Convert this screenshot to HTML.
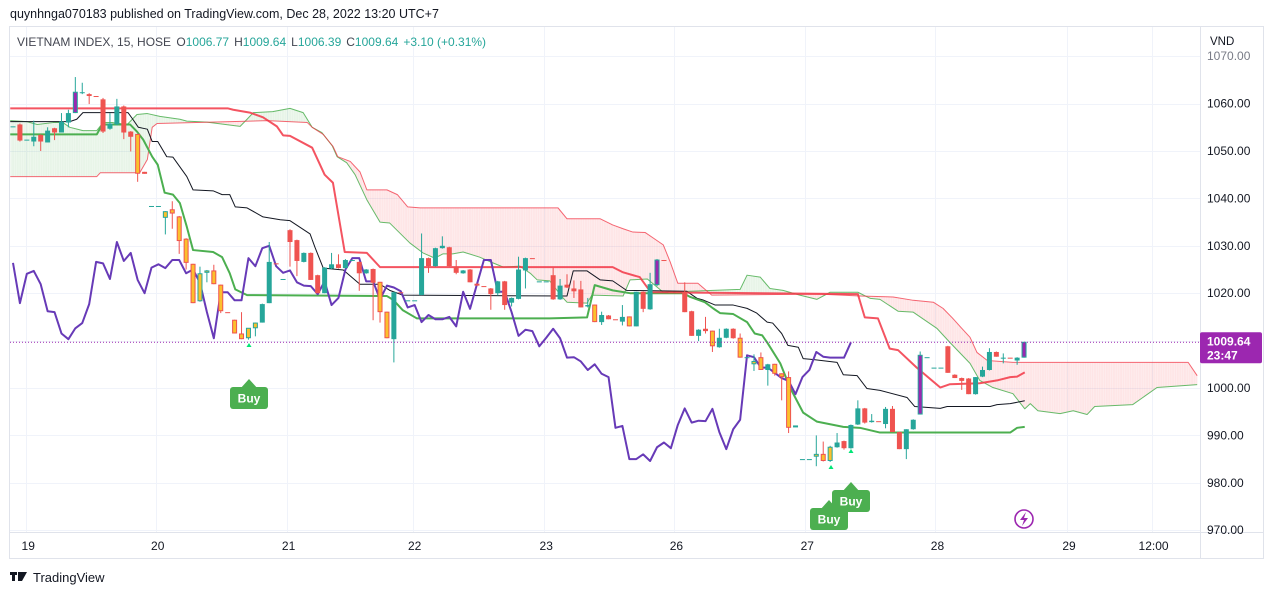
<!DOCTYPE html>
<html><head><meta charset="utf-8"><style>
html,body{margin:0;padding:0;background:#fff;}
svg{display:block;font-family:"Liberation Sans",sans-serif;}
</style></head><body>
<svg id="chart" width="1274" height="595" viewBox="0 0 1274 595" xmlns="http://www.w3.org/2000/svg">
<text x="10" y="18" font-size="12.5" fill="#131722">quynhnga070183 published on TradingView.com, Dec 28, 2022 13:20 UTC+7</text>
<rect x="9.5" y="26.5" width="1254" height="532" fill="none" stroke="#e0e3eb"/>
<g id="grid"></g>
<g id="plot" clip-path="url(#clipP)"></g>
<defs><clipPath id="clipP"><rect x="10" y="27" width="1190" height="505"/></clipPath></defs>
<line x1="1200.5" y1="27" x2="1200.5" y2="558" stroke="#e0e3eb"/>
<line x1="10" y1="532.5" x2="1263" y2="532.5" stroke="#e0e3eb"/>
<g id="axes"></g>
<text x="17" y="46" font-size="12" fill="#434651">VIETNAM INDEX, 15, HOSE <tspan fill="#434651" dx="2">O</tspan><tspan fill="#26a69a">1006.77</tspan><tspan fill="#434651" dx="5">H</tspan><tspan fill="#26a69a">1009.64</tspan><tspan fill="#434651" dx="5">L</tspan><tspan fill="#26a69a">1006.39</tspan><tspan fill="#434651" dx="5">C</tspan><tspan fill="#26a69a">1009.64</tspan><tspan fill="#26a69a" dx="5">+3.10 (+0.31%)</tspan></text>
<text x="1210" y="45" font-size="11.5" fill="#131722">VND</text>
<g>
<rect x="10" y="572" width="7" height="3" fill="#131722"/><rect x="12" y="572" width="3" height="9" fill="#131722"/>
<polygon points="18,572 27,572 22,581 18,581" fill="#131722"/>
<text x="33" y="582" font-size="13" fill="#131722">TradingView</text>
</g>
<g>
<circle cx="1024" cy="519" r="9" fill="#fff" stroke="#9c27b0" stroke-width="1.6"/>
<polygon points="1026,512 1020,520 1024,520 1022,526 1028,518 1024,518" fill="#9c27b0"/>
</g>
</svg>
<script>
const candles=[
[1055.2,1055.2,1055.2,1055.2],[1055.6,1055.8,1052,1052.2],[1052.4,1052.4,1052.4,1052.4],[1052,1056.4,1051,1053],[1053.4,1053.5,1050,1052],
[1051.8,1055,1051.8,1054.3],[1054.8,1054.9,1052.3,1053.9],[1053.9,1058,1053.9,1056.2],[1056,1058.7,1055,1058],[1058,1065.6,1058,1062.4],
[1062.4,1064.4,1062,1062.4],[1062,1062.2,1059.9,1061.6],[1061.6,1061.6,1061.6,1061.6],[1060.9,1061.2,1053.8,1054.1],[1054.7,1058,1054.5,1055.8],
[1055.6,1061,1055.4,1059.4],[1059.4,1059.6,1052.5,1053.9],[1054.1,1054.2,1049.9,1053],[1053.5,1053.6,1043.5,1045.2],[1045.5,1045.6,1045.2,1045.3],
[1038.4,1038.4,1038.4,1038.4],[1038.4,1038.4,1038.4,1038.4],[1035.9,1037.3,1032.4,1037.2],[1037.6,1039.4,1033.6,1036.8],[1036.1,1036.3,1028.3,1031],
[1031.4,1031.6,1025,1026.4],[1026.1,1026.2,1017.9,1017.9],[1018.3,1025.6,1018.2,1024.1],[1024.3,1024.9,1022.3,1024.7],[1024.7,1026,1021.9,1021.9],
[1021.7,1021.8,1015.8,1016.2],[1016,1016,1016,1016],[1014.3,1014.4,1011.5,1011.5],[1011.4,1016,1010.3,1010.3],[1010.5,1012.6,1010.2,1012.6],
[1012.6,1013.8,1010.9,1013.7],[1013.8,1017.8,1013.8,1017.7],[1017.9,1030.8,1017.9,1026.6],[1026.3,1026.3,1026.3,1026.3],[1023,1023,1023,1023],
[1033.3,1033.5,1025.6,1030.8],[1031.2,1031.3,1023.6,1026.8],[1026.6,1028.6,1026.5,1028.5],[1028.5,1028.6,1022.8,1022.8],[1023.8,1023.9,1020,1020],
[1020,1025.5,1020,1025.4],[1025.2,1028.5,1025.1,1026.1],[1026.1,1028.2,1025.2,1025.3],[1025.3,1027.2,1025.2,1027],[1027,1027,1027,1027],
[1026.6,1026.7,1020.5,1024.2],[1024.2,1025.1,1024.1,1025],[1025.1,1025.2,1014.3,1022.2],[1022.3,1022.4,1013.8,1016],[1016,1016.1,1010.5,1010.5],
[1010.3,1020.3,1005.4,1020.2],[1020.2,1020.2,1020.2,1020.2],[1018.5,1018.5,1018.5,1018.5],[1018.5,1018.5,1018.5,1018.5],[1019.6,1032.6,1019.6,1027.4],
[1027.4,1027.5,1024.3,1025.7],[1025.7,1029.6,1025.6,1029.5],[1029.5,1032,1029.4,1030],[1029.7,1029.8,1025.6,1025.7],[1025.6,1027,1024,1024.3],
[1024.2,1024.9,1024.1,1024.8],[1025,1025.1,1022.3,1022.3],[1022,1022.1,1021.6,1021.6],[1021.5,1021.5,1021.5,1021.5],[1021,1021.1,1016.5,1019.8],
[1020,1022.6,1019.5,1022.5],[1022.5,1022.6,1016.5,1017.5],[1018,1019.1,1017.2,1019],[1018.8,1027.7,1018.7,1025],[1024.8,1027.5,1021,1027.4],
[1027.4,1027.4,1027.4,1027.4],[1022.5,1022.5,1022.5,1022.5],[1022.5,1022.5,1022.5,1022.5],[1023.8,1025.5,1018.6,1018.7],[1018.7,1023,1018.6,1021.6],
[1021.8,1024,1021.1,1021.2],[1021,1022.7,1019,1020.4],[1020.8,1022.6,1017,1017],[1017.2,1019,1017,1017.5],[1017.5,1017.6,1013.9,1013.9],
[1013.9,1016.1,1013.3,1015.4],[1015.3,1015.4,1014.5,1014.5],[1014.5,1014.5,1014.5,1014.5],[1014,1017.5,1013.2,1015],[1015,1015.1,1013,1013],
[1013,1020.3,1013,1020.3],[1020.3,1020.4,1016,1016.7],[1016.6,1024.3,1016.5,1021.9],[1021.7,1027.2,1021.5,1027],[1027,1027,1027,1027],
[1020.3,1020.3,1020.3,1020.3],[1020.3,1020.3,1020.3,1020.3],[1020.3,1022.3,1016,1016],[1016.2,1016.3,1011,1011],[1011,1012.4,1009.9,1012.3],
[1012.5,1015,1011.5,1012],[1012,1012.1,1007.6,1008.8],[1008.6,1012.5,1008.5,1010.6],[1010.6,1012.6,1010.5,1012.5],[1012.5,1012.6,1010.4,1010.5],
[1010.5,1011.5,1006.4,1006.4],[1006.5,1006.5,1006.5,1006.5],[1005,1007.1,1003.6,1005.6],[1006.4,1007.5,1003.8,1003.8],[1003.8,1005.1,1000.5,1005],
[1005,1005.1,1002.6,1003],[1003,1003.1,997.4,1002.3],[1002.2,1003.5,990.5,991.6],[992,992,992,992],[985,985,985,985],
[985,985,985,985],[985.5,990,983.5,986],[986,988.7,984.5,984.6],[984.6,987.8,984.4,987.5],[987.5,990.5,987.4,988.5],
[988.8,988.9,987,987.3],[987.3,992.3,987.2,992.2],[992.3,997.4,992.2,995.7],[995.7,995.8,992.5,992.7],[992.8,994.5,992.7,993.1],
[993,993,993,993],[992.4,996,991.5,995.6],[995.6,996.2,990.7,990.7],[990.7,990.8,987.1,987.1],[987.1,991.3,985,991.3],
[991.3,993.4,991.2,993.3],[994.4,1007.7,994.4,1006.9],[1006.5,1006.5,1006.5,1006.5],[1004.3,1004.3,1004.3,1004.3],[1004.3,1004.3,1004.3,1004.3],
[1008.8,1008.9,1003.2,1003.2],[1002.8,1002.9,1002.1,1002.1],[1002.1,1002.2,999.6,1001.5],[1002,1002.1,998.7,998.7],[998.7,1002.3,998.6,1002.3],
[1002.4,1004.5,1002.3,1003.8],[1003.8,1008.4,1003.7,1007.6],[1007.6,1007.7,1006.6,1006.6],[1006.4,1007.3,1005.2,1006.4],[1006.4,1006.4,1006.4,1006.4],
[1005.8,1006.5,1004.9,1006.4],[1006.4,1009.64,1006.39,1009.64]];
const candleStyles="uduududuuP"+"uddduuddYY"+"uuUYYYYUUY"+"YdYYUUuudu"+"ddudduuduu"+"dudYYuduuu"+"duuddudddd"+"uduuuduudu"+"ddduYudduY"+"uduPdddddu"+"dYuudYuUYu"+"YYYUuuUYUu"+"duudududdu"+"uPuuuddddu"+"uududuP";
const tickPrices=[970,980,990,1000,1010,1020,1030,1040,1050,1060,1070];
const timeLabels=["19","20","21","22","23","26","27","28","29","12:00"];
const timeLabelBars=[2.2,20.9,39.8,58,77,95.8,114.7,133.5,152.5,164.7];
const chikouShift=25;
const lineRed=[[-0.4,1059],[31,1059],[31.8,1058.7],[34.2,1058.1],[36.1,1057.1],[38.1,1055.2],[39,1053.3],[40,1053.2],[43.2,1050.7],[45,1045],[46.2,1043.3],[47.9,1028.7],[51.1,1028.5],[53,1025.5],[86.6,1025.5],[88.1,1024.4],[90.5,1023.4],[91.7,1021],[92.4,1020.2],[122,1019.8],[123,1014.9],[124.9,1014.7],[126.6,1008.3],[127.8,1008],[130.5,1004.3],[133.9,1000.1],[135.3,1000.8],[139.6,1001],[142.1,1001.6],[144,1002.3],[145,1002.4],[146.1,1003.3]];
const lineGreen=[[-0.4,1053.5],[12.1,1053.5],[12.9,1055.6],[16.9,1055.6],[17.9,1054.1],[18.8,1052.4],[20.1,1048.8],[20.9,1047.1],[21.9,1041.2],[23.1,1040.8],[24.1,1039],[25.1,1034],[26,1029.1],[28.9,1028.7],[30.2,1027.6],[31.3,1024.2],[32.1,1020.8],[33.8,1019.6],[54,1019.4],[54.9,1018.6],[56.3,1016.4],[58.3,1014.7],[77.5,1014.7],[82.9,1014.9],[84,1021.7],[86.6,1020.6],[89.1,1020],[96.8,1020],[97.8,1019.2],[99.9,1018.1],[101.1,1016.8],[102.1,1015.8],[104,1015.6],[106,1013.9],[107.1,1011.5],[108.2,1011.1],[109,1009.4],[110.8,1005.2],[112.2,1000.1],[114.1,994.8],[116.1,992.9],[119.9,991.8],[122.3,991.6],[125.2,990.6],[144,990.6],[145,991.6],[146.1,991.8]];
const lineBlack=[[-0.4,1056.2],[8.2,1056.2],[9.2,1056.7],[10.1,1058.1],[16.6,1058.1],[17.3,1056.7],[18.1,1055],[19.4,1054.6],[20.1,1052],[20.9,1052],[22.2,1048.8],[23.1,1048.7],[25.1,1044.6],[26,1041.8],[28.9,1041.6],[30.2,1040.8],[31.3,1040.8],[32.1,1038.2],[33.8,1038],[36.1,1036.1],[38.6,1035.5],[40,1035.3],[42.9,1032.5],[43.6,1029.7],[44.8,1025.3],[47.7,1024.9],[50.1,1021.9],[53,1021.9],[54.4,1020.6],[56.3,1019.6],[80,1019.4],[80.9,1024.7],[82.9,1024.7],[84.8,1022.8],[86.6,1022.6],[88.6,1020.6],[97.3,1020.4],[98.8,1018.9],[99.6,1018.6],[101.4,1017.5],[104,1017.5],[106,1016.8],[107.4,1015.8],[108.9,1013.9],[109.7,1013.7],[111,1011.5],[111.9,1009],[113.4,1008.6],[114.1,1006.2],[115.5,1006],[119,1005.4],[119.9,1002.8],[121.9,1002.6],[123.3,999.9],[125.2,999.5],[129.1,998],[130.2,996.1],[133.9,995.7],[134.9,996.1],[141.1,996.1],[142.1,996.5],[144,996.7],[146.1,997.3]];
const leadA=[[-0.4,1056.4],[2,1056.2],[3.5,1055.6],[5.8,1056],[7.2,1056],[8.2,1055],[10.1,1054.3],[12.1,1054.3],[13,1056],[14.4,1056],[16.5,1055.6],[17.9,1057.7],[19.4,1057.9],[21.2,1057.3],[24.1,1056.7],[25.1,1056.3],[28,1056.1],[32.8,1055.2],[33.8,1056.7],[34.7,1058.1],[37.5,1058.3],[40,1059],[41.9,1058.1],[43.2,1055],[44.6,1053.9],[46.1,1051.1],[46.8,1048.8],[48.2,1047.5],[49.4,1045],[51.1,1039.7],[53,1035],[54.4,1034.8],[57.3,1030.6],[59.2,1028.5],[60.9,1027.4],[62.1,1028.3],[63.5,1028.3],[65,1028.7],[67.4,1027.6],[69.3,1026.4],[70.8,1025.5],[73.2,1025.7],[74.7,1024.2],[75.7,1022.8],[77.5,1022.6],[79.3,1019.2],[80,1018.1],[82.9,1017.9],[83.6,1019.6],[88.1,1019.4],[89.1,1022.8],[91.6,1023],[93.9,1020.2],[105,1020.8],[106,1023.8],[107.9,1023.4],[109.3,1021],[111.2,1020.6],[113.6,1019.6],[116.1,1018.7],[118,1020.2],[122,1020.2],[123.8,1018.9],[125.2,1018.7],[127.8,1016.2],[130,1016],[133.4,1012.6],[135.3,1009.6],[138.2,1005.2],[139.6,1001.6],[141.5,1000.1],[144.4,998.8],[146.1,995.6],[146.9,996.7],[148,995.2],[151.2,994.6],[153.1,995.2],[155.1,994.4],[156.2,996.1],[161.7,996.5],[165.2,1000.1],[171,1000.7]];
const leadB=[[-0.4,1044.6],[12.1,1044.6],[12.6,1045.4],[18.3,1045.4],[19.4,1048.2],[20.1,1055],[20.8,1055.8],[36.7,1056.4],[42.5,1056],[43.2,1055],[44.8,1053.5],[46.2,1051],[46.9,1048.8],[48.7,1047.8],[50.1,1045.6],[51.1,1041.8],[54,1041.8],[55.5,1040.8],[57,1038.2],[58.8,1038],[78.7,1038],[80,1035.7],[84.8,1035.7],[86.6,1034.4],[88.1,1033.6],[89.5,1032.9],[91.3,1032.8],[92.4,1031.7],[93.9,1030.2],[94.9,1026.6],[96,1022.1],[98.9,1022.1],[100.9,1019.6],[116.5,1019.8],[122.3,1019.4],[127.1,1019.2],[130,1018.5],[132.9,1018.1],[134.3,1016.8],[135.7,1014.7],[137,1012.6],[138.2,1010.7],[139.2,1007.5],[140.7,1005.8],[144.4,1005.4],[169.7,1005.4],[171,1002.6]];

const NS="http://www.w3.org/2000/svg";
function xs(i){return 13+i*6.925;}
function ys(p){return 388-(p-1000)*4.74;}
function mk(tag,attrs,parent){const e=document.createElementNS(NS,tag);for(const k in attrs)e.setAttribute(k,attrs[k]);parent.appendChild(e);return e;}
const grid=document.getElementById('grid'),plot=document.getElementById('plot'),axes=document.getElementById('axes');

tickPrices.forEach(p=>{
 const gl=mk('line',{x1:10,x2:1200,y1:Math.round(ys(p))+0.5,y2:Math.round(ys(p))+0.5,stroke:'#f0f3fa'},grid);
 
 
 const t=mk('text',{x:1207,y:ys(p)+4,'font-size':12,fill:p===1070?'#787b86':'#131722'},axes);
 t.textContent=p.toFixed(2);
 
 
});
timeLabels.forEach((s,k)=>{
 const gx=Math.round(xs(timeLabelBars[k]))-1.5;
 const gl=mk('line',{x1:gx,x2:gx,y1:27,y2:532,stroke:'#f0f3fa'},grid);
 
 
 const t=mk('text',{x:xs(timeLabelBars[k]),y:550,'font-size':12,fill:'#131722','text-anchor':'middle'},axes);
 t.textContent=s;
 
 
});

function interp(arr,i){
 if(i<=arr[0][0])return arr[0][1];
 for(let k=1;k<arr.length;k++){if(i<=arr[k][0]){const a=arr[k-1],b=arr[k];return a[1]+(b[1]-a[1])*(i-a[0])/(b[0]-a[0]);}}
 return arr[arr.length-1][1];
}
const cloud=mk('g',{},plot);


const i0=leadA[0][0],i1=leadA[leadA.length-1][0];
for(let i=i0;i<i1;i+=0.25){
 const j=Math.min(i+0.25,i1);
 const a0=interp(leadA,i),b0=interp(leadB,i),a1=interp(leadA,j),b1=interp(leadB,j);
 const up=(a0+a1)>(b0+b1);
 const q=mk('polygon',{points:`${xs(i)},${ys(a0)} ${xs(j)+0.3},${ys(a1)} ${xs(j)+0.3},${ys(b1)} ${xs(i)},${ys(b0)}`,fill:up?'rgba(76,175,80,0.1)':'rgba(242,54,69,0.1)'},cloud);
 
 
}
function poly(arr,color,w,name,op){
 const p=mk('polyline',{points:arr.map(d=>xs(d[0])+','+ys(d[1])).join(' '),fill:'none',stroke:color,'stroke-width':w,'stroke-opacity':op||1,'stroke-linejoin':'round'},plot);
 
 
}
poly(leadA,'#4caf50',1,'leading-span-a',0.85);
poly(leadB,'#f23645',1,'leading-span-b',0.75);
poly(lineBlack,'#131722',1,'black-line');
poly(lineGreen,'#4caf50',2,'green-line');
poly(lineRed,'#f23645',2,'red-line',0.85);
const lag=[];
for(let i=0;i+chikouShift<candles.length;i++)lag.push([i,candles[i+chikouShift][3]]);
poly(lag,'#673ab7',2,'lagging-span');

const cg=mk('g',{},plot);


candles.forEach((c,i)=>{
 const s=candleStyles[i]||'u';
 const up=(s==='u'||s==='U'||s==='P');
 const edge=up?'#26a69a':'#ef5350';
 let fill=edge;
 if(s==='Y'||s==='U')fill='#fbc02d';
 if(s==='P')fill='#9c27b0';
 const x=xs(i);
 const g=mk('g',{},cg);
 
 
 mk('line',{x1:x,x2:x,y1:ys(c[1]),y2:ys(c[2]),stroke:edge,'stroke-width':1},g);
 const top=ys(Math.max(c[0],c[3])),bot=ys(Math.min(c[0],c[3]));
 const h=Math.max(bot-top,1);
 if(fill===edge) mk('rect',{x:x-2.5,y:top,width:5,height:h,fill:fill},g);
 else mk('rect',{x:x-2,y:top,width:4,height:Math.max(h-0.5,1),fill:fill,stroke:edge,'stroke-width':1},g);
});

function tri(x,y){const t=mk('polygon',{points:`${x-2.5},${y+3} ${x+2.5},${y+3} ${x},${y-1}`,fill:'#00e676'},plot);
 
 }
tri(249,344);tri(831,466);tri(851,450);
function buy(cx,top){
 const g=mk('g',{},axes);
 
 
 mk('polygon',{points:`${cx-9},${top+10} ${cx},${top} ${cx+9},${top+10}`,fill:'#4caf50'},g);
 mk('rect',{x:cx-19,y:top+8,width:38,height:22,rx:3,fill:'#4caf50'},g);
 const t=mk('text',{x:cx,y:top+23.5,'font-size':12,'font-weight':'bold',fill:'#fff','text-anchor':'middle'},g);
 t.textContent='Buy';
}
buy(249,379);buy(829,500);buy(851,482);

const lp=candles[candles.length-1][3];
const dl=mk('line',{x1:10,x2:1200,y1:ys(lp),y2:ys(lp),stroke:'#9c27b0','stroke-width':1,'stroke-dasharray':'1 2'},plot);


const lg=mk('g',{},axes);


mk('rect',{x:1200,y:ys(lp)-10,width:62,height:31,rx:2,fill:'#9c27b0'},lg);
const t1=mk('text',{x:1207,y:ys(lp)+3,'font-size':12,'font-weight':'bold',fill:'#fff'},lg);t1.textContent=lp.toFixed(2);
const t2=mk('text',{x:1207,y:ys(lp)+17,'font-size':12,'font-weight':'bold',fill:'#fff'},lg);t2.textContent='23:47';
</script>
</body></html>
